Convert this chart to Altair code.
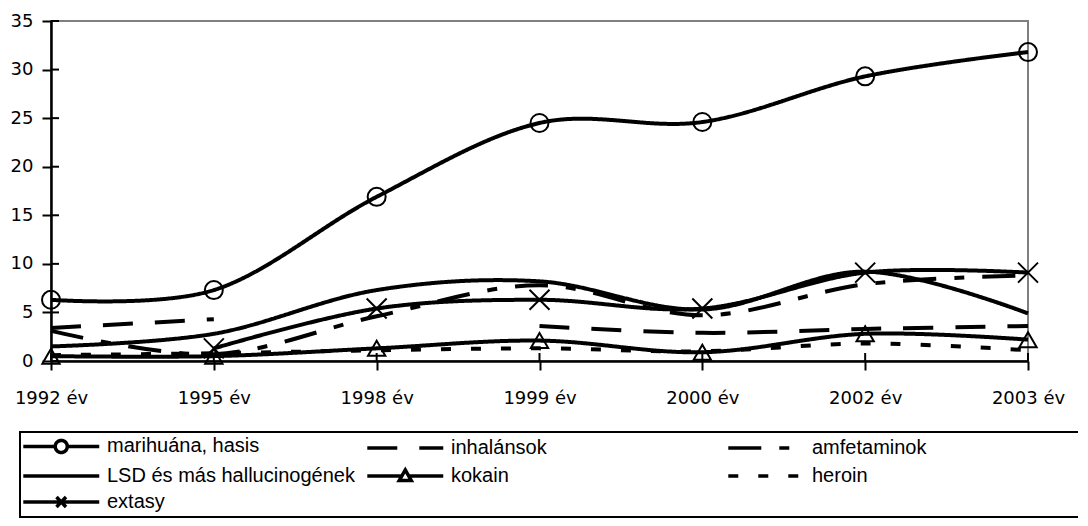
import altair as alt
import pandas as pd

years = ["1992 év", "1995 év", "1998 év", "1999 év", "2000 év", "2002 év", "2003 év"]
series = ["marihuána, hasis", "inhalánsok", "amfetaminok",
          "LSD és más hallucinogének", "kokain", "heroin", "extasy"]

marihuana = [6.3, 7.3, 16.9, 24.5, 24.6, 29.3, 31.8]
inhalansok = [3.4, 4.3, None, 3.6, 2.9, 3.3, 3.6]
amfetaminok = [3.1, 0.7, 4.6, 7.8, 4.7, 7.9, 8.8]
lsd = [1.5, 2.8, 7.3, 8.2, 5.3, 9.2, 4.9]
kokain = [0.5, 0.5, 1.3, 2.1, 0.9, 2.8, 2.2]
heroin = [0.6, 0.8, 1.1, 1.3, 1.0, 1.8, 1.1]
extasy = [None, 1.3, 5.4, 6.3, 5.4, 9.1, 9.1]

yvals = [0, 5, 10, 15, 20, 25, 30, 35]

values = [marihuana, inhalansok, amfetaminok, lsd, kokain, heroin, extasy]

dashes = [[1, 0], [30, 22], [33, 18, 10, 18], [1, 0], [1, 0], [10, 20], [1, 0]]

# legend symbols: a line with its marker (unit = 9 px); the trailing move-to
# only sets how wide that legend column is (Excel-style even columns)
L = "M-1.19,0H7.25"
W2 = " M36.7,0"
W3 = " M39.3,0"
legend_paths = [
    "M-1.19,0H2.36 M3.7,0H7.25 M2.36,0A0.67,0.67 0 1,0 3.7,0A0.67,0.67 0 1,0 2.36,0",
    L + W2,
    L + W3,
    L,
    "M-1.19,0H2.66 M3.4,0H7.25 M2.36,0.5L3.03,-0.67L3.7,0.5Z" + W2,
    L + W3,
    "M-1.19,0H7.25 M2.5,-0.55L3.56,0.55 M2.5,0.55L3.56,-0.55",
]

rows = []
for name, vals in zip(series, values):
    for yr, v in zip(years, vals):
        rows.append({"ev": yr, "sorozat": name, "ertek": v})
df = pd.DataFrame(rows)
ytick_df = pd.DataFrame({"ertek": yvals})
xtick_df = pd.DataFrame({"ev": years})

axis_common = dict(title=None, labelFont="DejaVu Sans", labelFontSize=18,
                   labelColor="black", domainColor="black", domainWidth=2.5,
                   tickColor="black", tickWidth=2, tickSize=9, grid=False)

x_scale = alt.Scale(type="point", padding=0)
y_scale = alt.Scale(domain=[0, 35], nice=False, zero=True)

x = alt.X("ev:N", sort=years, scale=x_scale,
          axis=alt.Axis(labelAngle=0, labelPadding=19, **axis_common))
y = alt.Y("ertek:Q", scale=y_scale,
          axis=alt.Axis(values=yvals, labelPadding=9, **axis_common))

dash_scale = alt.Scale(domain=series, range=dashes)

lines = alt.Chart(df).mark_line(
    interpolate="cardinal", strokeWidth=4, color="black",
    invalid="break-paths-show-domains"
).encode(
    x=x, y=y,
    strokeDash=alt.StrokeDash("sorozat:N", scale=dash_scale, title=None, sort=series),
)

circles = alt.Chart(df).transform_filter(
    alt.datum.sorozat == "marihuána, hasis"
).mark_point(shape="circle", size=324, filled=False, color="black",
             strokeWidth=2, opacity=1).encode(x=x, y=y)

triangles = alt.Chart(df).transform_filter(
    alt.datum.sorozat == "kokain"
).mark_point(shape="triangle-up", size=300, filled=False, color="black",
             strokeWidth=2, opacity=1).encode(x=x, y=y)

crosses = alt.Chart(df).transform_filter(
    (alt.datum.sorozat == "extasy") & alt.expr.isValid(alt.datum.ertek)
).mark_point(shape="M-1,-1L1,1M-1,1L1,-1", size=400, filled=False, color="black",
             strokeWidth=2, opacity=1).encode(x=x, y=y)

legend_layer = alt.Chart(df).transform_filter("false").mark_point(
    filled=False, color="black", strokeWidth=3.5, opacity=1
).encode(
    x=x, y=y,
    shape=alt.Shape("sorozat:N", scale=alt.Scale(domain=series, range=legend_paths),
                    title=None, sort=series),
    strokeDash=alt.StrokeDash("sorozat:N", scale=dash_scale, title=None, sort=series),
)

# inner halves of the crossing tick marks
ytick_in = alt.Chart(ytick_df).mark_rule(color="black", strokeWidth=2).encode(
    y=y, x=alt.value(0), x2=alt.value(8))
xtick_in = alt.Chart(xtick_df).mark_rule(color="black", strokeWidth=2).encode(
    x=x, y=alt.value(332), y2=alt.value(340))

chart = alt.layer(lines, circles, triangles, crosses, legend_layer,
                  ytick_in, xtick_in).properties(
    width=977, height=340,
    padding={"left": 43, "top": 13, "right": 50, "bottom": 157},
    autosize="none",
).configure_view(
    stroke="#808080", strokeWidth=2
).configure_legend(
    orient="none", legendX=-31, legendY=411, direction="horizontal",
    columns=3, gridAlign="each", columnPadding=5, rowPadding=2, padding=3,
    strokeColor="black", strokeWidth=2, fillColor="white",
    symbolSize=324, symbolStrokeWidth=3.5, symbolStrokeColor="black",
    labelFont="Liberation Sans", labelFontSize=20, labelColor="black",
    labelOffset=62, labelLimit=500,
)

chart.save("out.html", embed_options={"renderer": "svg", "actions": False})
